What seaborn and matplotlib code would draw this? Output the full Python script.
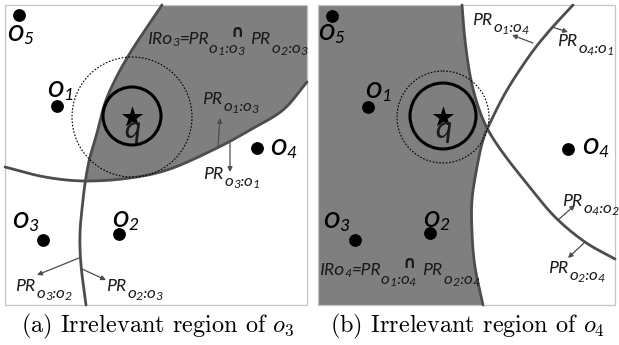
import numpy as np
import matplotlib
matplotlib.use("Agg")
import matplotlib.pyplot as plt
import seaborn as sns
import pandas as pd
from matplotlib.patches import Polygon, Circle, Rectangle
from matplotlib import font_manager as fm

# ---------------- data (pixel coordinates, y grows downward) ----------------
panel_a_box = (5, 5, 307, 305)      # x0, y0, x1, y1
panel_b_box = (318, 5, 615, 305)

obj_labels = ["5", "1", "4", "3", "2"]
a_obj_x = [19, 57, 257, 43, 119]
a_obj_y = [15, 106, 148, 240, 234]
b_obj_x = [332, 368, 568, 355, 430]
b_obj_y = [16, 107, 149, 240, 233]

# label anchors (left x, baseline y) for o5, o1, o4, o3, o2
a_lab_x = [7, 47, 270, 12, 112]
a_lab_y = [41, 97, 155, 228, 227]
b_lab_x = [318, 365, 582, 323, 423]
b_lab_y = [40, 98, 154, 228, 227]

q_pos = [(132, 117), (443, 117)]
solid_r = [29, 33]
dotted_centers = [(132, 117), (443, 117)]
dotted_r = [60, 46]

# boundary curves (way-points)
a_curve_23 = [(162, 5), (143, 33), (127, 58), (115, 80), (105, 103), (97, 133),
              (90, 157), (86, 177), (83, 200), (80, 233), (81, 265), (86, 305)]
a_curve_13 = [(5, 167), (45, 177), (85, 181), (130, 178), (170, 169), (217, 148),
              (250, 130), (283, 110), (307, 82)]
b_curve_A = [(462, 5), (465, 40), (470, 75), (477, 103), (487, 128), (503, 153),
             (528, 185), (555, 217), (585, 242), (615, 259)]
b_curve_B = [(573, 5), (550, 30), (530, 55), (507, 90), (490, 123), (483, 140),
             (477, 167), (472, 200), (472, 233), (475, 267), (483, 305)]

# arrows (start -> end)
a_arrows = [((218, 146), (220, 118)), ((230, 143), (230, 172)),
            ((79, 258), (37, 275)), ((82, 269), (106, 280))]
b_arrows = [((533, 43), (512, 35)), ((552, 27), (568, 32)),
            ((558, 220), (575, 205)), ((585, 242), (568, 258))]

# PR labels: (left x, baseline y, first index, second index)
a_pr = [(202, 104, "1", "3"), (203, 179, "3", "1"), (15, 291, "3", "2"), (106, 291, "2", "3")]
b_pr = [(472, 25, "1", "4"), (557, 46, "4", "1"), (562, 206, "4", "2"), (548, 273, "2", "4")]

captions = ["(a) Irrelevant region of $o_3$", "(b) Irrelevant region of $o_4$"]
caption_x = [158, 467]
caption_y = 332

SHADE = "#7f7f7f"
CURVE = "#4d4d4d"
ARROW = "#4d4d4d"
TEXT = "#1a1a1a"
BORDER = "#c4c4c4"

# ---------------- helpers ----------------
def smooth(pts, n=24):
    p = np.array(pts, dtype=float)
    p = np.vstack([2 * p[0] - p[1], p, 2 * p[-1] - p[-2]])
    out = []
    for i in range(1, len(p) - 2):
        p0, p1, p2, p3 = p[i - 1], p[i], p[i + 1], p[i + 2]
        for t in np.linspace(0, 1, n, endpoint=False):
            t2, t3 = t * t, t * t * t
            out.append(0.5 * ((2 * p1) + (-p0 + p2) * t + (2 * p0 - 5 * p1 + 4 * p2 - p3) * t2
                              + (-p0 + 3 * p1 - 3 * p2 + p3) * t3))
    out.append(p[-2])
    return np.array(out)


def pick_italic_family(cands):
    for fam in cands:
        try:
            path = fm.findfont(fm.FontProperties(family=fam, style="italic"),
                               fallback_to_default=False)
        except Exception:
            continue
        name = path.lower().rsplit("/", 1)[-1]
        if "italic" in name or "oblique" in name:
            return fam
    return "DejaVu Sans"


sns.set_theme(style="white")
ITAL = pick_italic_family(["Carlito", "Lato", "Liberation Sans", "DejaVu Sans"])
SC = 1.1 if ITAL == "Carlito" else 1.0
LABEL_FONT = [ITAL, "DejaVu Sans"]
plt.rcParams["font.family"] = LABEL_FONT
plt.rcParams["axes.unicode_minus"] = False

fig = plt.figure(figsize=(6.19, 3.45), dpi=100)
ax = fig.add_axes([0, 0, 1, 1])
ax.set_xlim(0, 619)
ax.set_ylim(345, 0)
ax.axis("off")
renderer = fig.canvas.get_renderer()


def rich(x, y, parts, color=TEXT):
    for s, size, dy in parts:
        t = ax.text(x, y + dy, s, fontsize=size * SC, fontstyle="italic", family=LABEL_FONT,
                    color=color, ha="left", va="baseline", zorder=10)
        x += t.get_window_extent(renderer).width
    return x


def sub_parts(i, j, d):
    return [("o", 11, d), (i, 8.5, d + 2), (":", 11, d), ("o", 11, d), (j, 8.5, d + 2)]


# ---------------- shaded regions ----------------
x0, y0, x1, y1 = panel_a_box
c23 = smooth(a_curve_23)
c13 = smooth(a_curve_13)
polyA = Polygon(np.vstack([c23, [(x1, y1), (x1, y0)]]), closed=True, facecolor=SHADE,
                edgecolor="none", zorder=1)
polyB = Polygon(np.vstack([c13, [(x1, y0), (x0, y0)]]), closed=True, transform=ax.transData)
ax.add_patch(polyA)
polyA.set_clip_path(polyB)

x0b, y0b, x1b, y1b = panel_b_box
cA = smooth(b_curve_A)
cB = smooth(b_curve_B)
polyC = Polygon(np.vstack([cA, [(x1b, y1b), (x0b, y1b), (x0b, y0b)]]), closed=True,
                facecolor=SHADE, edgecolor="none", zorder=1)
polyD = Polygon(np.vstack([cB, [(x0b, y1b), (x0b, y0b)]]), closed=True, transform=ax.transData)
ax.add_patch(polyC)
polyC.set_clip_path(polyD)

# ---------------- curves ----------------
for c in [c23, c13, cA, cB]:
    sns.lineplot(x=c[:, 0], y=c[:, 1], sort=False, estimator=None, color=CURVE,
                 linewidth=2.0, ax=ax, zorder=3)

for (bx0, by0, bx1, by1) in [panel_a_box, panel_b_box]:
    ax.add_patch(Rectangle((bx0, by0), bx1 - bx0, by1 - by0, fill=False,
                           edgecolor=BORDER, linewidth=0.9, zorder=2))

# ---------------- circles and query point ----------------
for (qx, qy), rs, (dcx, dcy), rd in zip(q_pos, solid_r, dotted_centers, dotted_r):
    ax.add_patch(Circle((qx, qy - 1), rs, fill=False, edgecolor="black", linewidth=2.2, zorder=4))
    ax.add_patch(Circle((dcx, dcy), rd, fill=False, edgecolor="black", linewidth=0.8,
                        linestyle=(0, (1.5, 1.5)), zorder=4))

qdf = pd.DataFrame({"x": [p[0] for p in q_pos], "y": [p[1] for p in q_pos]})
sns.scatterplot(data=qdf, x="x", y="y", marker="*", s=260, color="black", edgecolor="black",
                linewidth=0, ax=ax, zorder=5, legend=False)
for qx, qy in q_pos:
    ax.text(qx, qy + 21, "q", fontsize=21 * SC, fontstyle="italic", family=LABEL_FONT,
            color=TEXT, ha="center", va="baseline", zorder=10)

# ---------------- objects ----------------
odf = pd.DataFrame({"x": a_obj_x + b_obj_x, "y": a_obj_y + b_obj_y})
sns.scatterplot(data=odf, x="x", y="y", s=85, color="black", edgecolor="black", linewidth=0,
                ax=ax, zorder=5, legend=False)
for lx, ly, lab in zip(a_lab_x + b_lab_x, a_lab_y + b_lab_y, obj_labels + obj_labels):
    rich(lx, ly, [("o", 21, 0), (lab, 12, 3)], color="black")

# ---------------- arrows ----------------
for (s, e) in a_arrows + b_arrows:
    ax.annotate("", xy=e, xytext=s, zorder=6,
                arrowprops=dict(arrowstyle="-|>", color=ARROW, lw=0.9, mutation_scale=7,
                                shrinkA=0, shrinkB=0))

# ---------------- PR labels ----------------
for (lx, ly, i, j) in a_pr + b_pr:
    xe = rich(lx, ly, [("PR", 12.5, 0)])
    rich(xe + 1, ly, sub_parts(i, j, 7))


def ir_label(x, y, k, i1, i2):
    xe = rich(x, y, [("IRo", 12.5, 0)])
    xe = rich(xe - 1, y, [(k, 8.5, 2)])
    xe = rich(xe, y, [("=PR", 12.5, 0)])
    xe = rich(xe, y, sub_parts(i1, k, 9))
    ax.text(xe - 6, y - 8, "\u2229", fontsize=12, fontweight="bold", family=["DejaVu Sans"],
            color=TEXT, ha="center", va="baseline", zorder=10)
    xe = rich(xe + 7, y, [("PR", 12.5, 0)])
    rich(xe + 1, y, sub_parts(i2, k, 9))


ir_label(148, 44, "3", "1", "2")
ir_label(320, 275, "4", "1", "2")

# ---------------- captions ----------------
for cx, cap in zip(caption_x, captions):
    ax.text(cx, caption_y, cap, fontsize=17.5, family=["cmr10"], math_fontfamily="cm",
            color="black", ha="center", va="baseline")

fig.savefig("out.png", dpi=100)
